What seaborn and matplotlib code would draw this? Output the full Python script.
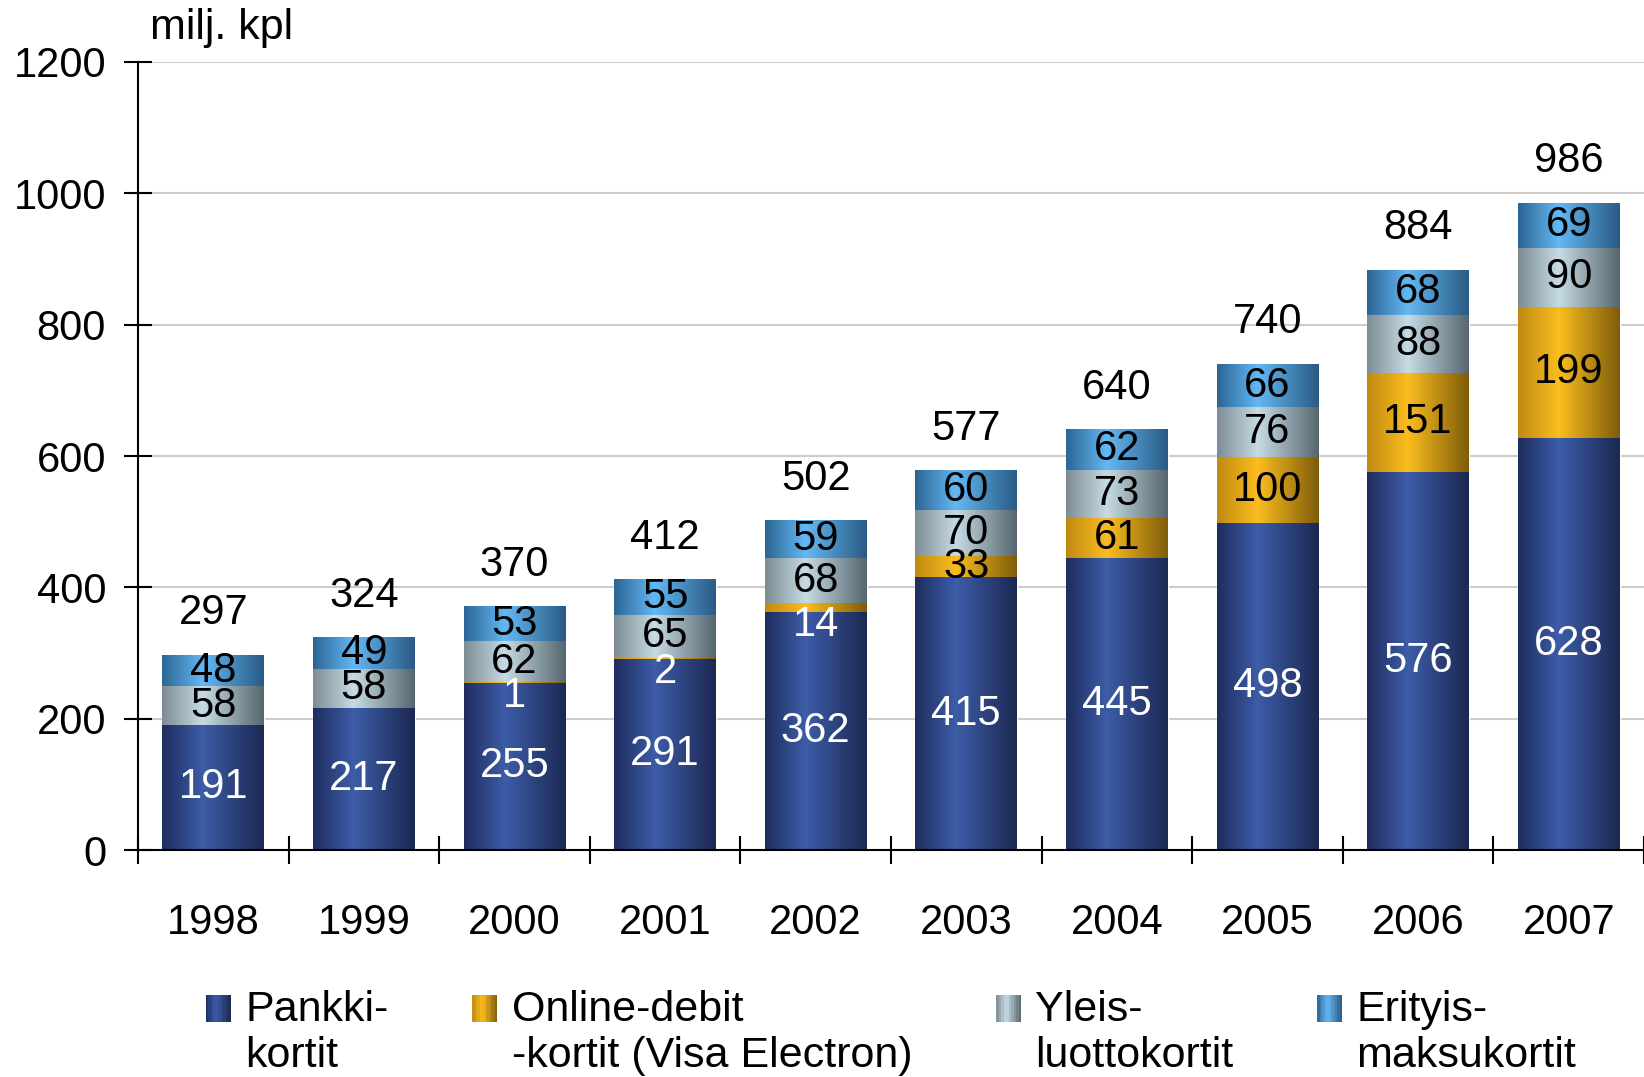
import numpy as np
import matplotlib
matplotlib.use("Agg")
import matplotlib.pyplot as plt
import seaborn as sns
from matplotlib.colors import LinearSegmentedColormap
from matplotlib.patches import Rectangle
from matplotlib.legend_handler import HandlerBase

years = ["1998", "1999", "2000", "2001", "2002", "2003", "2004", "2005", "2006", "2007"]
pankki = [191, 217, 255, 291, 362, 415, 445, 498, 576, 628]
online = [0, 0, 1, 2, 14, 33, 61, 100, 151, 199]
yleis = [58, 58, 62, 65, 68, 70, 73, 76, 88, 90]
erityis = [48, 49, 53, 55, 59, 60, 62, 66, 68, 69]
totals = [297, 324, 370, 412, 502, 577, 640, 740, 884, 986]
series_names = ["Pankki-\nkortit", "Online-debit\n-kortit (Visa Electron)",
                "Yleis-\nluottokortit", "Erityis-\nmaksukortit"]
y_ticks = [0, 200, 400, 600, 800, 1000, 1200]
y_unit = "milj. kpl"

# gradient colours (left edge, highlight, right edge)
grads = [("#1f2c5e", "#3d5da8", "#1c2852"),
         ("#c08a12", "#fbbd1f", "#7e5c0a"),
         ("#7d8c94", "#c6dbe4", "#56666e"),
         ("#2c6593", "#63b8f4", "#2a5a84")]
label_colors = ["white", "black", "black", "black"]

sns.set_theme(style="white")
plt.rcParams['font.family'] = ['Liberation Sans', 'DejaVu Sans']
plt.rcParams.update({'text.color': 'black', 'axes.labelcolor': 'black',
                     'xtick.color': 'black', 'ytick.color': 'black'})

fig = plt.figure(figsize=(16.44, 10.77), dpi=100)
ax = fig.add_axes([138 / 1644, 227 / 1077, 1 - 138 / 1644, (1015 - 227) / 1077])

series = [pankki, online, yleis, erityis]
bottom = np.zeros(len(years))
for vals, g in zip(series, grads):
    sns.barplot(x=years, y=vals, bottom=bottom.copy(), color=g[1], width=0.675,
                saturation=1, errorbar=None, ax=ax)
    bottom += np.array(vals)

# cylinder-like horizontal gradient on each bar
for container, g in zip(ax.containers, grads):
    cmap = LinearSegmentedColormap.from_list("g", [(0, g[0]), (0.4, g[1]), (1, g[2])])
    for bar in container:
        x, y = bar.get_xy()
        w, h = bar.get_width(), bar.get_height()
        if h <= 0:
            continue
        im = ax.imshow(np.linspace(0, 1, 256).reshape(1, -1), cmap=cmap,
                       extent=[x, x + w, y, y + h], aspect='auto',
                       interpolation='bilinear', zorder=bar.get_zorder() + 0.1)
        im.set_clip_path(bar)

ax.set_xlim(-0.5, len(years) - 0.5)
ax.set_ylim(0, 1200)
ax.set_aspect('auto')

# value labels
bottom = np.zeros(len(years))
for vals, lc in zip(series, label_colors):
    for i, v in enumerate(vals):
        if v == 0:
            continue
        if v < 20:
            yy, col = bottom[i] - 20, "white"
        else:
            yy, col = bottom[i] + v / 2, lc
        ax.text(i, yy, str(v), ha='center', va='center', fontsize=30, color=col, zorder=5)
    bottom += np.array(vals)

for i, t in enumerate(totals):
    ax.annotate(str(t), (i, t), xytext=(0, 30), textcoords='offset points',
                ha='center', va='center', fontsize=30, color='black')

# axes styling
ax.set_yticks(y_ticks)
ax.set_yticklabels([str(t) for t in y_ticks])
ax.yaxis.grid(True, color='#cccccc', lw=1.5)
ax.xaxis.grid(False)
ax.set_axisbelow(True)
for s in ['top', 'right']:
    ax.spines[s].set_visible(False)
for s in ['left', 'bottom']:
    ax.spines[s].set_color('black')
    ax.spines[s].set_linewidth(1.5)
ax.tick_params(axis='y', which='major', left=True, direction='inout', length=20,
               width=1.5, color='black', pad=13, labelsize=30, labelcolor='black')
ax.set_xticks(range(len(years)))
ax.set_xticklabels(years)
ax.set_xticks(np.arange(-0.5, len(years), 1), minor=True)
ax.tick_params(axis='x', which='major', bottom=True, length=0, pad=38, labelsize=30,
               labelcolor='black')
ax.tick_params(axis='x', which='minor', bottom=True, direction='inout', length=20,
               width=1.5, color='black')
ax.set_xlabel("")
ax.set_ylabel("")

fig.text(150 / 1644, 1 - 28 / 1077, y_unit, fontsize=31, ha='left', va='center', color='black')


class GradHandler(HandlerBase):
    def __init__(self, cols, shift):
        super().__init__()
        self.cols = cols
        self.shift = shift

    def create_artists(self, legend, orig_handle, xdescent, ydescent, width, height,
                       fontsize, trans):
        cmap = LinearSegmentedColormap.from_list("h", [(0, self.cols[0]), (0.4, self.cols[1]),
                                                       (1, self.cols[2])])
        n = 10
        arts = []
        for k in range(n):
            r = Rectangle((-xdescent + k * width / n, -ydescent + self.shift), width / n, height,
                          facecolor=cmap((k + 0.5) / n), edgecolor='none', transform=trans)
            arts.append(r)
        return arts


proxies = [Rectangle((0, 0), 1, 1, facecolor=g[1]) for g in grads]
hmap = {p: GradHandler(g, 18) for p, g in zip(proxies, grads)}
leg = fig.legend(proxies, series_names, handler_map=hmap, loc='center left',
                 bbox_to_anchor=(206 / 1644, 44 / 1077), ncol=4, frameon=False, fontsize=31,
                 handlelength=0.58, handleheight=0.6, handletextpad=0.33, columnspacing=1.95,
                 borderpad=0, borderaxespad=0, labelcolor='black')

fig.savefig("out.png", dpi=100)
